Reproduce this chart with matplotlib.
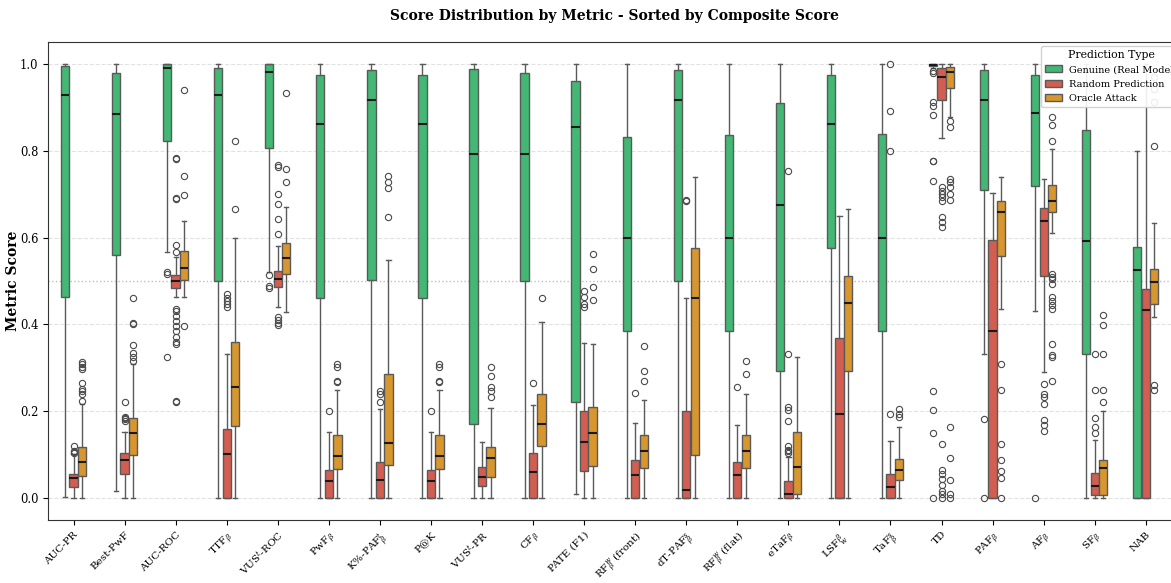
import matplotlib
matplotlib.use('Agg')
import matplotlib.pyplot as plt
from matplotlib.patches import Patch

plt.rcParams['font.family'] = 'DejaVu Serif'
plt.rcParams['mathtext.fontset'] = 'dejavuserif'

metrics = ['AUC-PR', 'Best-PwF', 'AUC-ROC', r'TTF$_\beta$', r'VUS$^t$-ROC', r'PwF$_\beta$',
           r'K%-PAF$^t_\beta$', 'P@K', r'VUS$^t$-PR', r'CF$_\beta$', 'PATE (F1)',
           r'RF$^w_\beta$ (front)', r'dT-PAF$^s_\beta$', r'RF$^w_\beta$ (flat)', r'eTaF$_\beta$',
           r'LSF$^\beta_w$', r'TaF$^s_\beta$', 'TD', r'PAF$_\beta$', r'AF$_\beta$', r'SF$_\beta$', 'NAB']

# box statistics: whisker low, q1, median, q3, whisker high
genuine_lo  = [0.003, 0.017, 0.566, 0, 0.52, 0, 0, 0, 0, 0, 0.009, 0, 0, 0, 0, 0, 0, 0.99, 0.333, 0.432, 0, 0]
genuine_q1  = [0.463, 0.560, 0.823, 0.5, 0.805, 0.461, 0.503, 0.461, 0.170, 0.5, 0.222, 0.386, 0.5, 0.386, 0.294, 0.576, 0.386, 0.995, 0.710, 0.718, 0.333, 0]
genuine_med = [0.928, 0.884, 0.990, 0.929, 0.980, 0.862, 0.917, 0.862, 0.792, 0.792, 0.855, 0.599, 0.917, 0.599, 0.674, 0.862, 0.599, 0.998, 0.917, 0.887, 0.592, 0.526]
genuine_q3  = [0.995, 0.979, 1.0, 0.990, 1.0, 0.975, 0.985, 0.975, 0.987, 0.979, 0.961, 0.832, 0.985, 0.835, 0.910, 0.975, 0.838, 1.0, 0.985, 0.974, 0.848, 0.578]
genuine_hi  = [1.0, 1.0, 1.0, 1.0, 1.0, 1.0, 1.0, 1.0, 1.0, 1.0, 1.0, 1.0, 1.0, 1.0, 1.0, 1.0, 1.0, 1.0, 1.0, 1.0, 1.0, 0.8]
genuine_fliers = [[], [], [0.52, 0.515, 0.325], [], [0.513, 0.488, 0.483], [], [], [], [], [], [], [], [], [],
                  [], [], [],
                  [0.984, 0.978, 0.911, 0.903, 0.883, 0.777, 0.775, 0.731, 0.247, 0.204, 0.150, 0.0],
                  [0.183, 0.0], [0.0], [], []]

random_lo  = [0, 0, 0.463, 0, 0.44, 0, 0, 0, 0, 0, 0, 0, 0, 0, 0, 0, 0, 0.828, 0, 0.29, 0, 0]
random_q1  = [0.026, 0.057, 0.484, 0, 0.486, 0, 0, 0, 0.029, 0, 0.063, 0, 0, 0, 0, 0, 0, 0.917, 0, 0.512, 0.008, 0]
random_med = [0.046, 0.089, 0.500, 0.101, 0.504, 0.040, 0.043, 0.040, 0.049, 0.060, 0.129, 0.053, 0.018, 0.053, 0.009, 0.195, 0.025, 0.969, 0.385, 0.638, 0.028, 0.434]
random_q3  = [0.057, 0.104, 0.514, 0.160, 0.524, 0.064, 0.084, 0.064, 0.072, 0.105, 0.202, 0.087, 0.201, 0.084, 0.040, 0.369, 0.057, 0.990, 0.595, 0.668, 0.058, 0.481]
random_hi  = [0.103, 0.152, 0.555, 0.333, 0.581, 0.152, 0.206, 0.152, 0.13, 0.215, 0.358, 0.173, 0.461, 0.169, 0.095, 0.649, 0.133, 1.0, 0.702, 0.735, 0.135, 1.0]
random_fliers = [[0.12, 0.11, 0.107, 0.105],
                 [0.221, 0.188, 0.185, 0.182, 0.179],
                 [0.782, 0.780, 0.691, 0.689, 0.582, 0.566, 0.436, 0.432, 0.42, 0.409, 0.397, 0.385, 0.372, 0.359, 0.356, 0.224, 0.221],
                 [0.470, 0.462, 0.455, 0.448, 0.440],
                 [0.768, 0.763, 0.70, 0.677, 0.643, 0.608, 0.417, 0.41, 0.404, 0.398],
                 [0.2], [0.221, 0.241, 0.248], [0.2], [], [0.266],
                 [0.441, 0.446, 0.463, 0.478], [0.242], [0.686, 0.684], [0.256],
                 [0.752, 0.333, 0.21, 0.204, 0.179, 0.12, 0.112, 0.109, 0.104],
                 [], [1.0, 0.892, 0.798, 0.193],
                 [0.716, 0.708, 0.700, 0.693, 0.685, 0.647, 0.635, 0.625, 0.124, 0.064, 0.057, 0.045, 0.03, 0.017, 0.01, 0.0],
                 [], [0.264, 0.241, 0.233, 0.218, 0.181, 0.168, 0.156],
                 [0.15, 0.165, 0.185, 0.25, 0.333], []]

oracle_lo  = [0, 0, 0.463, 0, 0.428, 0, 0, 0, 0, 0, 0, 0, 0, 0, 0, 0, 0, 0.877, 0.436, 0.61, 0, 0.417]
oracle_q1  = [0.052, 0.099, 0.503, 0.167, 0.515, 0.068, 0.076, 0.068, 0.048, 0.120, 0.075, 0.07, 0.099, 0.07, 0.011, 0.294, 0.041, 0.945, 0.558, 0.658, 0.008, 0.446]
oracle_med = [0.084, 0.151, 0.530, 0.256, 0.553, 0.097, 0.127, 0.097, 0.093, 0.171, 0.151, 0.11, 0.461, 0.109, 0.072, 0.449, 0.064, 0.982, 0.658, 0.684, 0.07, 0.497]
oracle_q3  = [0.118, 0.185, 0.569, 0.359, 0.588, 0.145, 0.287, 0.145, 0.118, 0.239, 0.211, 0.145, 0.576, 0.145, 0.152, 0.512, 0.091, 0.993, 0.684, 0.722, 0.087, 0.527]
oracle_hi  = [0.218, 0.31, 0.639, 0.599, 0.670, 0.25, 0.549, 0.25, 0.208, 0.405, 0.356, 0.227, 0.740, 0.241, 0.325, 0.666, 0.164, 1.0, 0.740, 0.804, 0.2, 0.633]
oracle_fliers = [[0.313, 0.308, 0.303, 0.298, 0.265, 0.252, 0.248, 0.239, 0.225],
                 [0.315, 0.325, 0.334, 0.352, 0.4, 0.403, 0.461],
                 [0.939, 0.742, 0.698, 0.396],
                 [0.666, 0.823],
                 [0.932, 0.758, 0.727],
                 [0.267, 0.271, 0.302, 0.31],
                 [0.647, 0.713, 0.727, 0.741],
                 [0.267, 0.271, 0.302, 0.31],
                 [0.303, 0.281, 0.256, 0.248, 0.234],
                 [0.461],
                 [0.457, 0.486, 0.527, 0.562],
                 [0.271, 0.292, 0.350],
                 [], [0.287, 0.315], [], [],
                 [0.206, 0.193, 0.187],
                 [0.869, 0.855, 0.735, 0.727, 0.716, 0.70, 0.687, 0.164, 0.093, 0.041, 0.011, 0.0],
                 [0.31, 0.25, 0.126, 0.087, 0.062, 0.047, 0.0],
                 [0.821, 0.860, 0.878, 0.516, 0.51, 0.505, 0.493, 0.463, 0.455, 0.445, 0.435, 0.354, 0.329, 0.326, 0.269],
                 [0.221, 0.25, 0.333, 0.399, 0.422],
                 [0.97, 0.942, 0.911, 0.811, 0.26, 0.25]]

groups = [
    ('Genuine (Real Model)', '#42b874', genuine_lo, genuine_q1, genuine_med, genuine_q3, genuine_hi, genuine_fliers),
    ('Random Prediction', '#d25d51', random_lo, random_q1, random_med, random_q3, random_hi, random_fliers),
    ('Oracle Attack', '#d7962e', oracle_lo, oracle_q1, oracle_med, oracle_q3, oracle_hi, oracle_fliers),
]

fig = plt.figure(figsize=(11.71, 5.83), dpi=100)
ax = fig.add_axes([0.041, 0.108, 0.968, 0.82])

box_w = 0.5 / 3
handles = []
for k, (name, color, lo, q1, med, q3, hi, fl) in enumerate(groups):
    stats = []
    for i in range(len(metrics)):
        stats.append({'whislo': lo[i], 'q1': q1[i], 'med': med[i], 'q3': q3[i],
                      'whishi': hi[i], 'fliers': fl[i]})
    pos = [i + (k - 1) * box_w for i in range(len(metrics))]
    ax.bxp(stats, positions=pos, widths=box_w * 0.98, patch_artist=True, manage_ticks=False,
           capwidths=box_w * 0.5,
           boxprops=dict(facecolor=color, edgecolor='#5a5a5a', linewidth=1.0),
           medianprops=dict(color='#1a1a1a', linewidth=1.5),
           whiskerprops=dict(color='#5a5a5a', linewidth=1.0),
           capprops=dict(color='#5a5a5a', linewidth=1.0),
           flierprops=dict(marker='o', markerfacecolor='none', markeredgecolor='#4a4a4a',
                           markersize=4.5, markeredgewidth=0.8))
    handles.append(Patch(facecolor=color, edgecolor='#5a5a5a', label=name))

ax.axhline(0.5, color='gray', linestyle=':', linewidth=1, alpha=0.5, zorder=0)
ax.yaxis.grid(True, linestyle='--', color='#e2e2e2', linewidth=0.8)
ax.set_axisbelow(True)

ax.set_xlim(-0.5, len(metrics) - 0.3)
ax.set_ylim(-0.05, 1.05)
ax.set_xticks(range(len(metrics)))
ax.set_xticklabels(metrics, rotation=45, ha='right', fontsize=7.5, rotation_mode='anchor')
ax.tick_params(axis='y', labelsize=8.3)
for s in ax.spines.values():
    s.set_color('#333333')

ax.set_title('Score Distribution by Metric - Sorted by Composite Score',
             fontsize=10, fontweight='bold', pad=16)
ax.set_xlabel('Metric', fontsize=10, fontweight='bold', labelpad=0)
ax.set_ylabel('Metric Score', fontsize=10, fontweight='bold', labelpad=0)

ax.legend(handles=handles, title='Prediction Type', loc='upper left', fontsize=7,
          title_fontsize=7.8, framealpha=0.9, borderaxespad=0, handlelength=1.8,
          handletextpad=0.7, labelspacing=0.55, bbox_to_anchor=(1041 / 1171, 1 - 46 / 583),
          bbox_transform=fig.transFigure)

fig.savefig('out.png', dpi=100)
